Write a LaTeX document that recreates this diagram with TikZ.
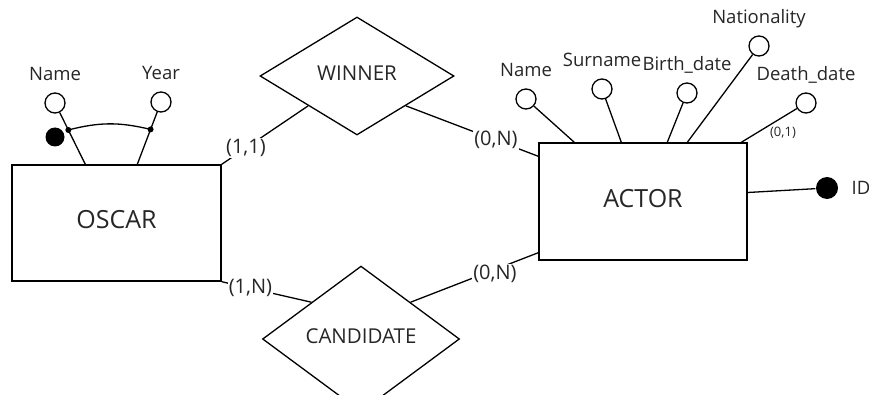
\documentclass[tikz,border=0pt]{standalone}
\usepackage{fontspec}
\setmainfont{Open Sans}
\usetikzlibrary{positioning,shapes.geometric,calc}

\tikzset{
  entity/.style={draw, line width=1.4pt, inner sep=0pt, text=black!85, font=\fontsize{25}{28}\selectfont},
  relation/.style={draw, diamond, line width=1.3pt, inner sep=0pt, text=black!85, font=\fontsize{20.5}{23}\selectfont},
  attr/.style={draw, circle, line width=1.3pt, minimum size=20pt, inner sep=0pt, fill=white},
  key/.style={circle, fill=black, minimum size=21pt, inner sep=0pt},
  knot/.style={circle, fill=black, minimum size=6pt, inner sep=0pt},
  attrname/.style={inner sep=0pt, text=black!85, font=\fontsize{18.5}{21}\selectfont},
  card/.style={fill=white, inner sep=1pt, text=black!85, font=\fontsize{20}{22}\selectfont},
}

\begin{document}
\begin{tikzpicture}[x=1pt, y=1pt, line width=1.3pt, node distance=12pt]

    \useasboundingbox (0,0) rectangle (869,394);

    \node[entity, minimum width=209pt, minimum height=116pt] (O) at (116.5,171) {\begin{tabular}{c} OSCAR \end{tabular}};
    \node[entity, minimum width=208pt, minimum height=117pt] (A) at (643,192.5) {\begin{tabular}{c} ACTOR \end{tabular}};
    \node[relation, minimum width=194pt, minimum height=118pt] (W) at (357,318) {\begin{tabular}{c} WINNER \end{tabular}};
    \node[relation, minimum width=197pt, minimum height=112pt] (C) at (361,55) {\begin{tabular}{c} CANDIDATE \end{tabular}};

    \path[-] (W.south west) edge node[card, pos=0.72] {(1,1)} (O.north east);
    \path[-] (W.south east) edge node[card, pos=0.68] {(0,N)} ([yshift=-14pt]A.north west);
    \path[-] (C.north west) edge node[card, pos=0.68] {(1,N)} (O.south east);
    \path[-] (C.north east) edge node[card, pos=0.66, yshift=-4pt] {(0,N)} ([yshift=8pt]A.south west);

    % attributes of OSCAR
    \node[attr] (On) at (55,291) {};
    \node[attr] (Oy) at (161,292) {};
    \node[attrname, above=12pt of On.north, anchor=base] (OnL) {Name};
    \node[attrname, above=12pt of Oy.north, anchor=base] (OyL) {Year};
    \coordinate (OnF) at ([xshift=74pt]O.north west);
    \coordinate (OyF) at ([xshift=126pt]O.north west);
    \path[-] (On) edge (OnF);
    \path[-] (Oy) edge (OyF);
    \node[knot] (K1) at ($(On)!0.44!(OnF)$) {};
    \node[knot] (K2) at ($(Oy)!0.44!(OyF)$) {};
    \draw (K1.center) to[bend left=14] (K2.center);
    \node[key, minimum size=19pt] (Ok) at (55,257) {};

    % attributes of ACTOR
    \node[attr] (An) at (526,295) {};
    \node[attr] (As) at (602,305) {};
    \node[attr] (Ab) at (687,301) {};
    \node[attr] (Aq) at (759,348) {};
    \node[attr] (Ad) at (806,291) {};
    \node[attrname, above=12pt of An.north, anchor=base] (AnL) {Name};
    \node[attrname, above=12pt of As.north, anchor=base] (AsL) {Surname};
    \node[attrname, above=12pt of Ab.north, anchor=base] (AbL) {Birth\_date};
    \node[attrname, above=12pt of Aq.north, anchor=base] (AqL) {Nationality};
    \node[attrname, above=12pt of Ad.north, anchor=base] (AdL) {Death\_date};
    \path[-] (An) edge ([xshift=36pt]A.north west);
    \path[-] (As) edge ([xshift=83pt]A.north west);
    \path[-] (Ab) edge ([xshift=129pt]A.north west);
    \path[-] (Aq) edge ([xshift=149pt]A.north west);
    \path[-] (Ad) edge ([xshift=203pt]A.north west);
    \node[inner sep=0pt, text=black!85, font=\fontsize{13}{15}\selectfont] (Ad01) at (783,261) {(0,1)};

    \node[key, minimum size=22pt] (Ak) at (827,206) {};
    \path[-] ([yshift=9pt]A.east) edge (Ak);
    \node[attrname, right=24pt of Ak.center, anchor=west] (AkL) {ID};

\end{tikzpicture}
\end{document}
